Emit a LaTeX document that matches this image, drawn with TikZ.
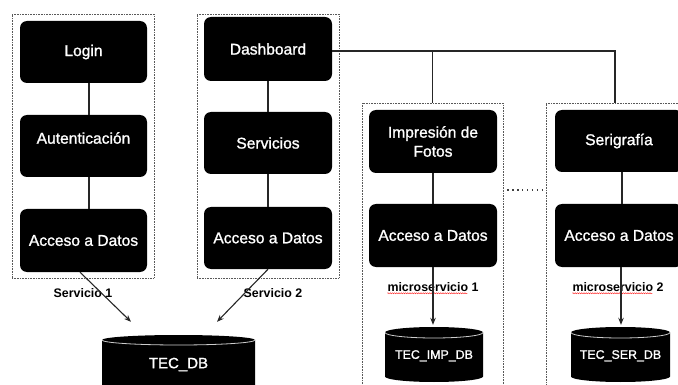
\documentclass[tikz,border=0pt]{standalone}
\usepackage{fontspec}
\setmainfont{Liberation Sans}
\newfontfamily\nodefont[FakeBold=1.2]{Liberation Sans}
\usetikzlibrary{arrows.meta,decorations.pathmorphing,calc}
\begin{document}
\begin{tikzpicture}[x=1pt,y=-1pt,
  blk/.style={rectangle, rounded corners=7pt, fill=black, text=white, minimum width=127pt, minimum height=62pt, inner sep=0pt, font=\nodefont\fontsize{15.6}{19}\selectfont, align=center},
  blktxt/.style={text=white, inner sep=0pt, font=\nodefont\fontsize{15.6}{19}\selectfont},
  grp/.style={rectangle, draw=black!65, line width=0.8pt, dash pattern=on 0.8pt off 0.8pt, inner sep=0pt},
  conn/.style={draw=black!85, line width=1.1pt},
  arr/.style={conn, -{Stealth[length=7pt,width=5.5pt]}},
  lbl/.style={font=\bfseries\fontsize{12.4}{14}\selectfont, inner sep=0pt},
  dotlink/.style={draw=black!75, line width=1.3pt, dash pattern=on 1.3pt off 3.6pt},
  squig/.style={draw=red!80, line width=0.5pt, decorate, decoration={snake, amplitude=0.5pt, segment length=2.2pt}},
  cyl/.style n args={3}{rectangle, minimum width=#1, minimum height=#2, inner sep=0pt, text=white, text depth=0pt,
    path picture={
      \fill[black] ([yshift=-#3]path picture bounding box.north west) -- ([yshift=#3]path picture bounding box.south west)
        arc[start angle=180, end angle=360, x radius=#1/2, y radius=#3]
        -- ([yshift=-#3]path picture bounding box.north east)
        arc[start angle=0, end angle=180, x radius=#1/2, y radius=#3] -- cycle;
      \draw[white!80!black, line width=0.8pt] ([yshift=-#3]path picture bounding box.north west)
        arc[start angle=180, end angle=360, x radius=#1/2, y radius=#3];
    }}
]
\useasboundingbox (0,0) rectangle (678,385);

% dotted groups
\node[grp, minimum width=142pt, minimum height=264pt] (g1) at (83,146) {};
\node[grp, minimum width=142pt, minimum height=264pt] (g2) at (268,146) {};
\node[grp, minimum width=141pt, minimum height=297pt] (g3) at (432.5,251.5) {};
\node[grp, minimum width=144pt, minimum height=297pt] (g4) at (618,251.5) {};

% service 1
\node[blk] (login) at (83.5,52) {Login};
\node[blk, label={[blktxt, yshift=8pt]center:Autenticación}] (aut) at (83.5,146) {};
\node[blk, minimum height=63pt] (acc1) at (83.5,240.5) {Acceso a Datos};

% service 2
\node[blk, minimum width=128pt, minimum height=64pt] (dash) at (268,49) {Dashboard};
\node[blk, minimum width=128pt] (serv) at (268,143) {Servicios};
\node[blk, minimum width=128pt] (acc2) at (268,238) {Acceso a Datos};

% microservices
\node[blk, minimum width=128pt, minimum height=63pt] (imp) at (433,141.5) {Impresión de\\Fotos};
\node[blk, minimum width=128pt, minimum height=63pt] (acc3) at (433,235.5) {Acceso a Datos};
\node[blk, minimum width=128pt] (seri) at (619,141) {Serigrafía};
\node[blk, minimum width=128pt, minimum height=63pt] (acc4) at (619,235.5) {Acceso a Datos};

% databases
\node[cyl={153pt}{56pt}{5pt}, font=\nodefont\fontsize{15}{18}\selectfont] (db) at (178.5,363) {TEC\_DB};
\node[cyl={98pt}{55pt}{5.5pt}, font=\nodefont\fontsize{12.4}{14}\selectfont] (dbimp) at (434,354.5) {TEC\_IMP\_DB};
\node[cyl={99pt}{55pt}{5.5pt}, font=\nodefont\fontsize{12.4}{14}\selectfont] (dbser) at (620.5,354.5) {TEC\_SER\_DB};

% labels
\node[lbl] (s1) at (83,293) {Servicio 1};
\node[lbl] (s2) at (273,293) {Servicio 2};
\node[lbl] (m1) at (433,287) {microservicio 1};
\node[lbl] (m2) at (618,287) {microservicio 2};
\draw[squig] ($(m1.south west)+(0,1.5)$) -- ++(80,0);
\draw[squig] ($(m2.south west)+(0,1.5)$) -- ++(80,0);

% connectors
\draw[conn] ([xshift=5.5pt]login.south) -- ([xshift=5.5pt]aut.north);
\draw[conn] ([xshift=5.5pt]aut.south) -- ([xshift=5.5pt]acc1.north);
\draw[conn] (dash.south) -- (serv.north);
\draw[conn] (serv.south) -- (acc2.north);
\draw[conn] (imp.south) -- (acc3.north);
\draw[conn] ([xshift=3pt]seri.south) -- ([xshift=3pt]acc4.north);
\coordinate (hl) at ($(dash.east)+(0,2)$);
\draw[conn] (hl) -| ([xshift=-3pt]g4.north);
\draw[conn] (g3.north |- hl) -- (g3.north);
\draw[dotlink] ($(g3.east)+(4,-61.5)$) -- ($(g4.west)+(-2,-61.5)$);

% arrows
\draw[arr] ([xshift=-3.5pt]acc1.south) -- ($(db.north)+(-47.5,-13)$);
\draw[arr] (acc2.south) -- ($(db.north)+(38.5,-13)$);
\draw[arr, shorten >=2pt] (acc3.south) -- (acc3.south |- dbimp.north);
\draw[arr, shorten >=2pt] ([xshift=2pt]acc4.south) -- ([xshift=2pt]acc4.south |- dbser.north);
\end{tikzpicture}
\end{document}
